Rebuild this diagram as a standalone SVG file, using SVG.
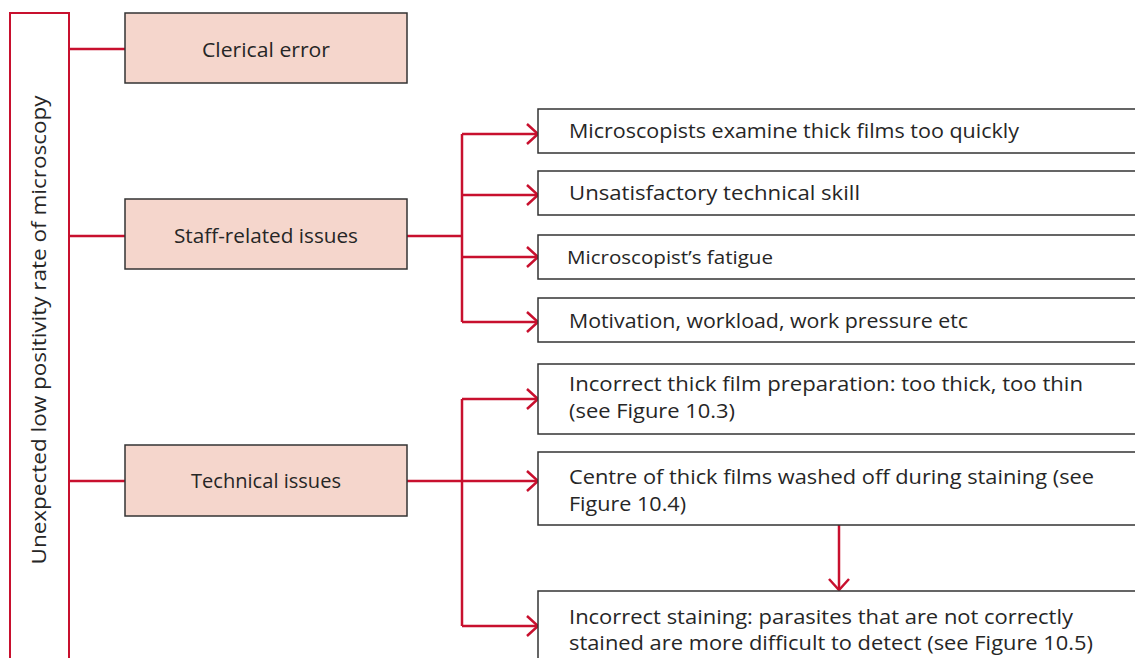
<svg xmlns="http://www.w3.org/2000/svg" width="1135" height="658" viewBox="0 0 1135 658">
<style>
.red{stroke:#c8102e;stroke-width:2.5;fill:none}
.pink{fill:#f5d6cc;stroke:#333;stroke-width:1.5}
.white{fill:#fff;stroke:#333;stroke-width:1.5}
text{font-family:"Open Sans","Noto Sans","Liberation Sans",sans-serif;font-size:20.5px;fill:#262626}
.c{text-anchor:middle}
</style>
<defs>
<marker id="arr" viewBox="0 0 14 22" refX="13" refY="11" markerWidth="14" markerHeight="22" markerUnits="userSpaceOnUse" orient="auto">
<path d="M2,1 L13,11 L2,21" fill="none" stroke="#c8102e" stroke-width="2.5"/>
</marker>
</defs>
<rect x="0" y="0" width="1135" height="658" fill="#fff"/>
<g id="root">
<path class="red" d="M10,660 V13 H69 V660" style="stroke-width:2"/>
<text transform="translate(46,330) rotate(-90)" class="c" textLength="469" lengthAdjust="spacingAndGlyphs">Unexpected low positivity rate of microscopy</text>
</g>
<g id="connectors">
<line class="red" x1="69" y1="49" x2="125" y2="49"/>
<line class="red" x1="69" y1="236" x2="125" y2="236"/>
<line class="red" x1="69" y1="481" x2="125" y2="481"/>
<line class="red" x1="407" y1="236" x2="462" y2="236"/>
<line class="red" x1="462" y1="134" x2="462" y2="322"/>
<line class="red" x1="462" y1="134" x2="538" y2="134" marker-end="url(#arr)"/>
<line class="red" x1="462" y1="195" x2="538" y2="195" marker-end="url(#arr)"/>
<line class="red" x1="462" y1="257" x2="538" y2="257" marker-end="url(#arr)"/>
<line class="red" x1="462" y1="322" x2="538" y2="322" marker-end="url(#arr)"/>
<line class="red" x1="407" y1="481" x2="462" y2="481"/>
<line class="red" x1="462" y1="399" x2="462" y2="626"/>
<line class="red" x1="462" y1="399" x2="538" y2="399" marker-end="url(#arr)"/>
<line class="red" x1="462" y1="481" x2="538" y2="481" marker-end="url(#arr)"/>
<line class="red" x1="462" y1="626" x2="538" y2="626" marker-end="url(#arr)"/>
<line class="red" x1="839" y1="525" x2="839" y2="590" marker-end="url(#arr)"/>
</g>
<g id="clerical">
<rect class="pink" x="125" y="13" width="282" height="70"/>
<text x="266" y="57" class="c" textLength="128" lengthAdjust="spacingAndGlyphs">Clerical error</text>
</g>
<g id="staff">
<rect class="pink" x="125" y="199" width="282" height="70"/>
<text x="266" y="243" class="c" textLength="184" lengthAdjust="spacingAndGlyphs">Staff-related issues</text>
</g>
<g id="technical">
<rect class="pink" x="125" y="445" width="282" height="71"/>
<text x="266" y="488" class="c" textLength="150" lengthAdjust="spacingAndGlyphs">Technical issues</text>
</g>
<g id="s1">
<rect class="white" x="538" y="109" width="610" height="44"/>
<text x="569" y="138" textLength="450" lengthAdjust="spacingAndGlyphs">Microscopists examine thick films too quickly</text>
</g>
<g id="s2">
<rect class="white" x="538" y="171" width="610" height="44"/>
<text x="569" y="200" textLength="291" lengthAdjust="spacingAndGlyphs">Unsatisfactory technical skill</text>
</g>
<g id="s3">
<rect class="white" x="538" y="235" width="610" height="44"/>
<text x="567" y="264" style="font-size:19px" textLength="206" lengthAdjust="spacingAndGlyphs">Microscopist’s fatigue</text>
</g>
<g id="s4">
<rect class="white" x="538" y="298" width="610" height="44"/>
<text x="569" y="328" textLength="399" lengthAdjust="spacingAndGlyphs">Motivation, workload, work pressure etc</text>
</g>
<g id="t1">
<rect class="white" x="538" y="364" width="610" height="70"/>
<text x="569" y="391" textLength="514" lengthAdjust="spacingAndGlyphs">Incorrect thick film preparation: too thick, too thin</text>
<text x="569" y="418" textLength="166" lengthAdjust="spacingAndGlyphs">(see Figure 10.3)</text>
</g>
<g id="t2">
<rect class="white" x="538" y="452" width="610" height="73"/>
<text x="569" y="484" textLength="525" lengthAdjust="spacingAndGlyphs">Centre of thick films washed off during staining (see</text>
<text x="569" y="511" textLength="117" lengthAdjust="spacingAndGlyphs">Figure 10.4)</text>
</g>
<g id="t3">
<rect class="white" x="538" y="591" width="610" height="80"/>
<text x="569" y="624" textLength="504" lengthAdjust="spacingAndGlyphs">Incorrect staining: parasites that are not correctly</text>
<text x="569" y="650" textLength="524" lengthAdjust="spacingAndGlyphs">stained are more difficult to detect (see Figure 10.5)</text>
</g>
</svg>
